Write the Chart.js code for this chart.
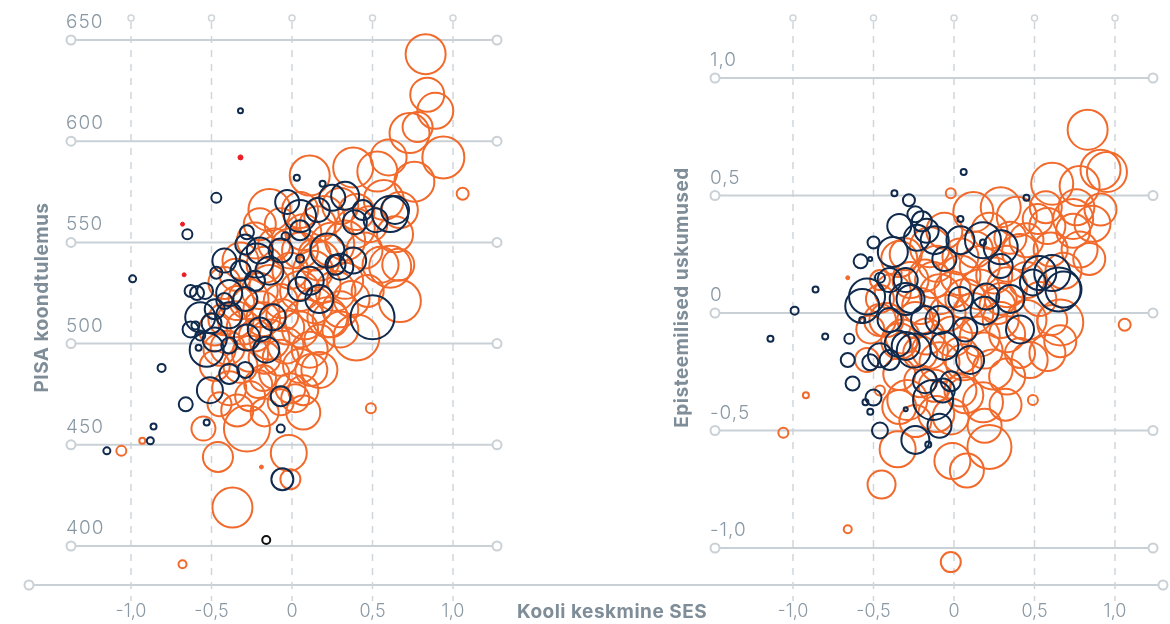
<!DOCTYPE html>
<html>
<head>
<meta charset="utf-8">
<script src="https://cdn.jsdelivr.net/npm/chart.js@4.4.1/dist/chart.umd.min.js"></script>
<style>
  body { margin: 0; background: #fff; }
  #wrap { position: relative; width: 1170px; height: 624px; }
  canvas { position: absolute; left: 0; top: 0; }
</style>
</head>
<body>
<div id="wrap">
  <canvas id="pisaChart" width="1170" height="624"></canvas>
  <canvas id="beliefChart" width="1170" height="624"></canvas>
</div>
<script>
// axis ticks
const sesTicks = [-1, -0.5, 0, 0.5, 1];
const sesLabels = ["-1,0", "-0,5", "0", "0,5", "1,0"];
const pisaTicks = [400, 450, 500, 550, 600, 650];
const pisaLabels = ["400", "450", "500", "550", "600", "650"];
const beliefTicks = [-1, -0.5, 0, 0.5, 1];
const beliefLabels = ["-1,0", "-0,5", "0", "0,5", "1,0"];

// left chart: [SES, PISA score, bubble radius]
const pisaOrange = [
  [0.83,643,20],[0.84,623,17],[0.89,615,18],[0.78,607,15],[0.73,604,20],[0.94,592,21],
  [0.60,592,18],[0.53,585,20],[0.76,580,20],[0.11,583,20],[0.38,587,20],[1.06,574,6],
  [0.67,566,18],[0.57,571,20],[-0.14,566,21],[0.30,568,18],[0.20,563,20],[0.40,565,18],
  [0.39,557,20],[0.61,538,21],[0.67,521,21],[0.55,539,18],[0.25,549,22],[0.07,555,18],
  [-0.01,547,20],[0.17,541,20],[0.33,531,18],[0.40,503,23],[0.22,513,20],[0.11,497,18],
  [-0.07,493,18],[-0.26,495,18],[-0.40,498,17],[-0.03,508,17],[-0.18,512,17],[-0.30,508,17],
  [-0.34,520,17],[-0.07,521,17],[-0.14,502,20],[0.05,526,20],[-0.20,526,18],[-0.35,534,16],
  [0.13,536,20],[0.30,517,18],[-0.39,478,17],[-0.18,483,13],[-0.01,478,15],[0.07,477,15],
  [-0.26,474,15],[-0.07,471,13],[0.07,466,17],[-0.28,458,23],[-0.55,458,12],[-0.46,444,15],
  [-0.02,446,18],[-0.01,433,10],[-0.37,419,20],[0.49,468,5],[-0.93,452,3],[-1.06,447,5],
  [-0.68,391,4],[0.17,487,18],[-0.48,489,15],[-0.42,512,16],[0.05,566,18],[0.48,559,18],
  [0.64,554,18],[0.47,526,16],[0.27,526,20],[0.14,519,18],[0.05,507,18],[-0.17,539,18],
  [-0.11,549,16],
  [0.33,551,20],[0.45,546,18],[0.66,539,16],[0.16,559,18],[-0.07,559,16],[-0.23,551,18],
  [-0.32,541,18],[-0.42,530,16],[-0.27,522,20],[-0.14,529,20],[-0.01,536,18],[0.19,529,18],
  [0.37,522,18],[0.24,512,18],[0.08,512,20],[-0.04,499,18],[-0.23,504,16],[-0.35,512,18],
  [-0.48,507,16],[-0.45,497,16],[-0.32,489,17],[-0.17,493,16],[0.05,489,17],[0.17,502,15],
  [0.30,507,18],[-0.11,485,15],[-0.21,480,14],[-0.45,470,12],[-0.34,467,16],[-0.17,466,14],
  [0.02,473,14],[0.12,487,16],[-0.19,517,18],[-0.06,514,16],[0.05,546,18],[-0.20,559,16],
  [0.14,544,16]
];
const pisaNavy = [
  [-0.32,615,2.5],[-0.47,572,5],[-0.65,554,5],[-0.99,532,3.5],[-0.63,526,6],[-0.59,525,7],
  [-0.47,535,6],[-0.57,513,15],[-0.50,510,10],[-0.53,497,17],[-0.58,498,3],[-0.81,488,4],
  [-0.51,477,13],[-0.66,470,7],[-0.86,459,3],[-0.88,452,3.5],[-1.15,447,3.5],[-0.53,461,3],
  [-0.07,458,4],[-0.06,433,11],[0.50,513,22],[0.61,564,18],[0.25,572,13],[-0.03,570,12],
  [0.03,582,3],[0.19,579,3],[0.44,566,10],[-0.20,546,13],[-0.28,555,7],[-0.39,525,13],
  [-0.22,541,17],[0.22,546,17],[0.30,538,13],[0.38,541,13],[-0.12,513,13],[-0.28,503,13],
  [-0.07,474,10],[-0.16,497,13],[0.05,563,16],[0.11,531,14],[-0.32,536,10],[-0.42,521,8],
  [-0.04,553,4],[0.05,542,4],
  [-0.42,541,12],[-0.29,549,10],[-0.54,526,8],[-0.48,517,10],[-0.39,514,13],[-0.63,507,8],
  [-0.57,504,5],[-0.60,509,4],[-0.48,502,12],[-0.39,499,8],[-0.29,522,12],[-0.23,531,10],
  [-0.14,536,14],[-0.07,546,12],[0.05,556,10],[0.16,566,12],[0.33,573,14],[0.39,560,12],
  [0.52,561,12],[0.64,566,14],[0.17,522,14],[0.05,527,12],[0.27,539,10],[-0.20,507,12],
  [-0.39,485,10],[-0.29,487,8]
];
const pisaRed = [[-0.32,592,2.5],[-0.68,559,2],[-0.67,534,2]];
const pisaOrangeDots = [[-0.19,439,2]];
const pisaBlack = [[-0.16,403,4]];

// right chart: [SES, epistemic beliefs, bubble radius]
const beliefNavy = [
  [-0.37,0.51,3],[-0.28,0.48,6],[0.45,0.49,3],[0.06,0.60,3],[-0.20,0.39,10],[0.04,0.40,3],
  [-0.50,0.30,6],[-0.58,0.22,7],[-0.52,0.23,2],[-0.46,0.15,5],[-0.54,0.07,18],[-0.57,0.03,17],
  [-0.86,0.10,3],[-0.99,0.01,4],[-1.14,-0.11,3],[-0.80,-0.10,3],[-0.65,-0.11,5],[-0.66,-0.20,7],
  [-0.63,-0.30,7],[-0.52,-0.21,8],[-0.57,-0.03,3],[-0.55,-0.38,3],[-0.52,-0.42,3],[-0.30,-0.41,2],
  [-0.13,-0.37,20],[-0.07,-0.33,12],[-0.16,-0.56,3],[-0.50,-0.36,8],[-0.35,-0.13,13],[-0.25,-0.16,17],
  [-0.38,0.26,15],[-0.23,0.32,13],[-0.17,0.35,12],[0.18,0.31,18],[0.29,0.28,17],[0.61,0.17,18],
  [0.68,0.10,18],[0.49,0.13,13],[0.20,0.07,13],[0.65,0.10,22],[0.53,0.17,17],[0.18,0.30,3],
  [-0.27,0.06,14],[-0.09,-0.03,14],[0.04,0.06,12],[-0.40,-0.20,10],[-0.30,0.14,12],
  [-0.34,0.37,12],[-0.24,0.42,8],[-0.12,0.31,14],[-0.06,0.23,12],[-0.40,0.14,12],[-0.30,0.06,16],
  [-0.18,-0.03,14],[-0.40,-0.03,12],[-0.30,-0.14,14],[-0.46,-0.18,12],[-0.06,-0.14,14],[0.10,-0.20,14],
  [0.07,-0.07,12],[0.19,0.01,14],[0.35,0.06,14],[0.41,-0.07,14],[0.29,0.20,12],[0.04,0.31,14],
  [-0.18,-0.29,12],[-0.02,-0.29,10],[-0.46,-0.50,8],[-0.24,-0.54,14],[-0.09,-0.48,12]
];
const beliefOrange = [
  [0.83,0.78,20],[0.91,0.61,20],[0.95,0.60,20],[0.61,0.55,21],[0.78,0.54,20],[0.76,0.45,18],
  [0.86,0.38,18],[0.74,0.35,17],[0.78,0.27,18],[0.68,0.18,18],[0.66,-0.04,23],[1.06,-0.05,6],
  [-0.02,0.51,5],[0.12,0.43,20],[0.29,0.45,20],[0.39,0.41,20],[0.52,0.40,15],[0.58,0.37,18],
  [0.45,0.31,17],[-0.34,0.23,18],[-0.15,0.28,20],[-0.11,0.21,18],[0.04,0.24,18],[0.16,0.20,20],
  [0.33,0.21,18],[0.41,0.26,18],[0.45,0.14,18],[0.33,0.11,20],[0.16,0.10,20],[-0.01,0.10,18],
  [-0.13,0.14,18],[-0.27,0.14,18],[-0.38,0.09,18],[-0.21,0.03,18],[-0.04,0.00,18],[0.12,0.00,20],
  [0.27,0.03,18],[0.45,-0.03,20],[0.61,-0.03,15],[-0.42,-0.03,17],[-0.34,-0.12,18],[-0.17,-0.10,18],
  [-0.01,-0.10,20],[0.16,-0.10,20],[0.33,-0.09,18],[-0.35,0.17,4],[-0.92,-0.35,3],[-1.06,-0.51,5],
  [-0.66,-0.92,4],[-0.02,-1.06,10],[-0.45,-0.73,14],[-0.35,-0.58,18],[-0.01,-0.63,18],[0.08,-0.67,17],
  [0.22,-0.57,22],[0.49,-0.37,5],[-0.54,-0.20,12],[-0.46,-0.33,5],[-0.34,-0.40,17],[-0.29,-0.37,20],
  [-0.11,-0.43,18],[-0.02,-0.44,18],[0.18,-0.38,20],[0.33,-0.27,18],[0.58,-0.17,18],[0.41,-0.17,15],
  [0.24,-0.24,20],[0.06,-0.21,18],[-0.09,-0.21,20],[-0.21,-0.17,17],[-0.32,-0.10,17],[-0.46,0.14,10],
  [-0.21,-0.29,16],[0.04,-0.33,16],[0.74,0.40,20],
  [-0.06,0.35,18],[0.22,0.35,18],[0.35,0.32,16],[0.04,0.16,20],[-0.09,0.08,20],[0.07,0.06,20],
  [0.25,0.16,18],[0.53,0.06,17],[0.60,0.27,17],[-0.24,-0.03,18],[-0.15,-0.16,18],[0.04,-0.18,18],
  [0.19,-0.16,18],[0.29,-0.03,18],[-0.52,-0.07,14],[-0.46,0.06,14],[-0.30,0.25,16],[-0.18,0.16,16],
  [0.13,0.27,18],[0.29,0.06,16],[0.07,-0.35,18],[-0.12,-0.31,16],[-0.24,-0.46,16],[0.19,-0.48,17],
  [0.32,-0.39,16],[0.47,-0.20,18],[0.66,-0.12,16],[-0.34,-0.26,16],[-0.46,-0.03,16],[0.84,0.23,16],
  [0.91,0.44,16],[0.57,0.45,16]
];
const beliefOrangeDots = [[-0.66,0.15,2]];

const orange = "#f26a2b";
const navy = "#0f2a4d";
const red = "#ec1c24";
const gridGray = "#c9d1d7";
const textGray = "#8a99a4";

function toPoints(arr) {
  return arr.map(d => ({ x: d[0], y: d[1], r: d[2] }));
}

function ring(data, color) {
  return { data: toPoints(data), borderColor: color, backgroundColor: "rgba(0,0,0,0)", borderWidth: 2 };
}
function dot(data, color) {
  return { data: toPoints(data), borderColor: color, backgroundColor: color, borderWidth: 1 };
}

function circle(ctx, x, y, r) {
  ctx.beginPath();
  ctx.arc(x, y, r, 0, Math.PI * 2);
  ctx.fillStyle = "#fff";
  ctx.fill();
  ctx.stroke();
}

const decor = {
  id: "decor",
  beforeDatasetsDraw(chart, args, o) {
    const ctx = chart.ctx;
    const a = chart.chartArea;
    const x = chart.scales.x, y = chart.scales.y;
    ctx.save();

    // bottom axis line shared by both panels
    if (o.baseLine) {
      ctx.strokeStyle = gridGray;
      ctx.lineWidth = 2;
      ctx.beginPath();
      ctx.moveTo(o.baseLine[0], a.bottom);
      ctx.lineTo(o.baseLine[1], a.bottom);
      ctx.stroke();
      circle(ctx, o.baseLine[0], a.bottom, 4.5);
      circle(ctx, o.baseLine[1], a.bottom, 4.5);
    }

    // vertical dashed lines
    ctx.strokeStyle = "#cfd6db";
    ctx.lineWidth = 1.5;
    ctx.setLineDash([7, 7]);
    o.xTicks.forEach(v => {
      const px = x.getPixelForValue(v);
      ctx.beginPath();
      ctx.moveTo(px, a.top + 4);
      ctx.lineTo(px, a.bottom + 16);
      ctx.stroke();
    });
    ctx.setLineDash([]);
    o.xTicks.forEach(v => circle(ctx, x.getPixelForValue(v), a.top, 3));

    // horizontal lines
    ctx.strokeStyle = gridGray;
    ctx.lineWidth = 2;
    o.yTicks.forEach(v => {
      const py = y.getPixelForValue(v);
      ctx.beginPath();
      ctx.moveTo(a.left, py);
      ctx.lineTo(a.right, py);
      ctx.stroke();
      circle(ctx, a.left, py, 4.5);
      circle(ctx, a.right, py, 4.5);
    });

    // tick labels
    ctx.fillStyle = textGray;
    ctx.font = "300 19px Inter";
    ctx.letterSpacing = "1px";
    ctx.textAlign = "left";
    ctx.textBaseline = "alphabetic";
    o.yTicks.forEach((v, i) => {
      ctx.fillText(o.yLabels[i], a.left - 5, y.getPixelForValue(v) - 12);
    });
    ctx.letterSpacing = "0px";
    ctx.font = "300 18px Inter";
    ctx.textAlign = "center";
    ctx.textBaseline = "middle";
    o.xTicks.forEach((v, i) => {
      ctx.fillText(o.xLabels[i], x.getPixelForValue(v), a.bottom + 27);
    });

    // axis titles
    ctx.font = "700 19px Inter";
    ctx.letterSpacing = "0.5px";
    ctx.fillStyle = "#7e8d98";
    ctx.save();
    ctx.translate(o.yTitleX, (a.top + a.bottom) / 2 - 4);
    ctx.rotate(-Math.PI / 2);
    ctx.textAlign = "center";
    ctx.fillText(o.yTitle, 0, 0);
    ctx.restore();
    if (o.xTitle) {
      ctx.textAlign = "left";
      ctx.fillText(o.xTitle, o.xTitleX, a.bottom + 27);
    }
    ctx.restore();
  }
};

function makeChart(id, datasets, xr, yr, pad, deco) {
  return new Chart(document.getElementById(id), {
    type: "bubble",
    data: { datasets: datasets },
    options: {
      responsive: false,
      animation: false,
      clip: false,
      layout: { padding: pad, autoPadding: false },
      plugins: { legend: { display: false }, tooltip: { enabled: false }, decor: deco },
      scales: {
        x: { type: "linear", display: false, min: xr[0], max: xr[1] },
        y: { type: "linear", display: false, min: yr[0], max: yr[1] }
      }
    },
    plugins: [decor]
  });
}

makeChart("pisaChart",
  [ring(pisaNavy, navy), ring(pisaBlack, "#111"), ring(pisaOrange, orange),
   dot(pisaOrangeDots, orange), dot(pisaRed, red)],
  [-1.3727, 1.2733], [380.73, 660.87],
  { left: 71, right: 673, top: 18, bottom: 39 },
  { xTicks: sesTicks, xLabels: sesLabels, yTicks: pisaTicks, yLabels: pisaLabels,
    yTitle: "PISA koondtulemus", yTitleX: 42, baseLine: [29, 1163],
    xTitle: "Kooli keskmine SES", xTitleX: 517 });

makeChart("beliefChart",
  [ring(beliefNavy, navy), ring(beliefOrange, orange), dot(beliefOrangeDots, orange)],
  [-1.4845, 1.236], [-1.1574, 1.2553],
  { left: 715, right: 17, top: 18, bottom: 39 },
  { xTicks: sesTicks, xLabels: sesLabels, yTicks: beliefTicks, yLabels: beliefLabels,
    yTitle: "Episteemilised uskumused", yTitleX: 682 });
</script>
</body>
</html>
